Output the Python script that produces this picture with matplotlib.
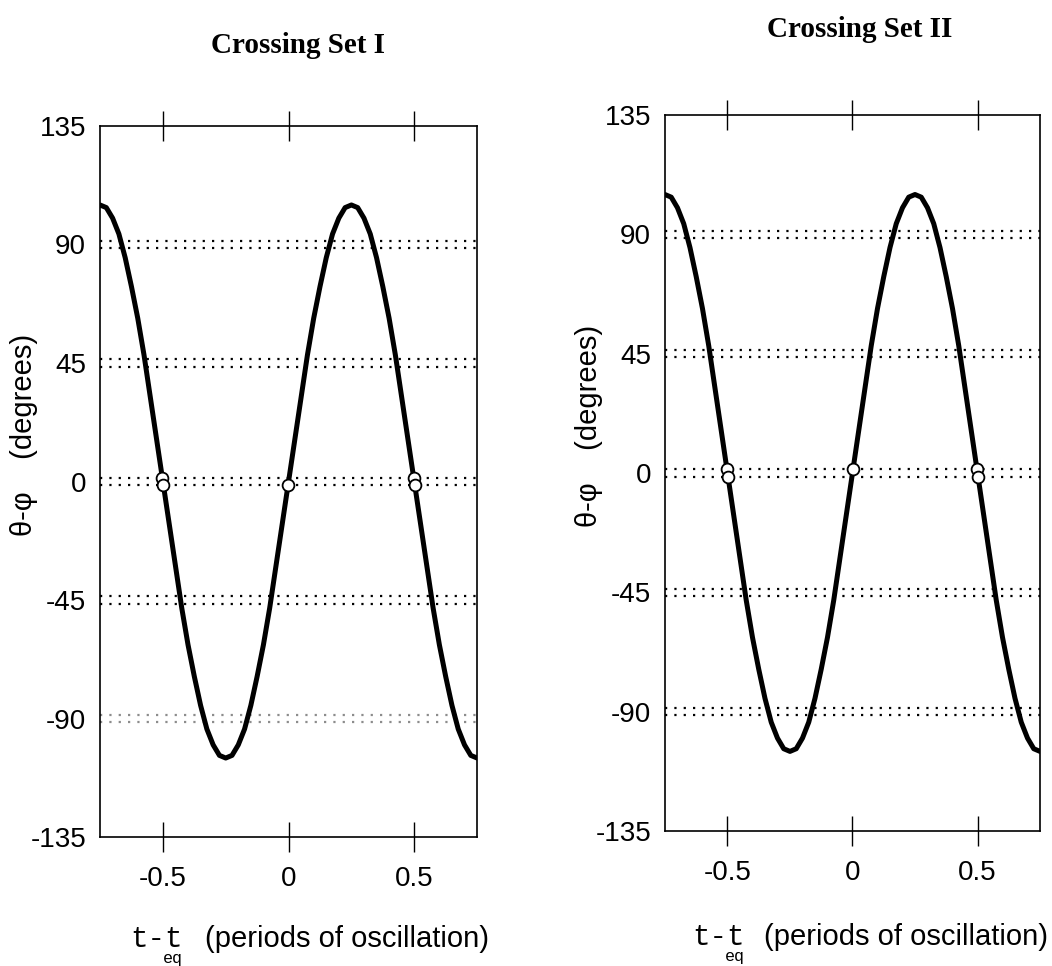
import matplotlib
matplotlib.use("Agg")
import matplotlib.pyplot as plt
import numpy as np

plt.rcParams['axes.unicode_minus'] = False
plt.rcParams['font.family'] = ['Liberation Sans', 'DejaVu Sans']

# time axis (periods of oscillation) and theta-phi (degrees)
t_vals = np.linspace(-0.75, 0.75, 61)
theta_phi = [105, 104, 100, 94, 85, 74, 62, 48, 32, 16, 0,
             -16, -32, -48, -62, -74, -85, -94, -100, -104, -105,
             -104, -100, -94, -85, -74, -62, -48, -32, -16, 0,
             16, 32, 48, 62, 74, 85, 94, 100, 104, 105,
             104, 100, 94, 85, 74, 62, 48, 32, 16, 0,
             -16, -32, -48, -62, -74, -85, -94, -100, -104, -105]

# dotted reference pairs
levels = [90, 45, 0, -45, -90]
pair_split = [1.4, -1.4]

# crossing markers
set1_t = [-0.502, -0.498, -0.002, 0.498, 0.502]
set1_y = [1.4, -1.4, -1.4, 1.4, -1.4]
set2_t = [-0.502, -0.498, 0.002, 0.498, 0.502]
set2_y = [1.4, -1.4, 1.4, 1.4, -1.4]

yticks = [135, 90, 45, 0, -45, -90, -135]
xticks = [-0.5, 0, 0.5]
xtick_labels = ['-0.5', '0', '0.5']

fig = plt.figure(figsize=(10.52, 9.66), dpi=100)
ax1 = fig.add_axes([0.0951, 0.1335, 0.3584, 0.7361])
ax2 = fig.add_axes([0.6321, 0.1398, 0.3565, 0.7412])


def draw_panel(ax, mt, my, faint_low=False):
    for lv in levels:
        for s in pair_split:
            col = '0.55' if (faint_low and lv == -90) else 'black'
            ax.axhline(lv + s, color=col, lw=1.6, ls=(0, (1, 3.2)), zorder=1)
    ax.plot(t_vals, theta_phi, color='black', lw=3.6, zorder=3,
            solid_capstyle='round', solid_joinstyle='round')
    ax.plot(mt, my, 'o', ms=8.5, mfc='white', mec='black', mew=1.3, zorder=5)
    ax.set_xlim(-0.75, 0.75)
    ax.set_ylim(-135, 135)
    ax.set_yticks(yticks)
    ax.set_yticklabels([str(v) for v in yticks], fontsize=20)
    ax.set_xticks(xticks)
    ax.set_xticklabels(xtick_labels, fontsize=20)
    ax.tick_params(axis='y', length=0, pad=10)
    ax.tick_params(axis='x', top=True, bottom=True, direction='inout',
                   length=22, width=1.0, pad=10)
    for sp in ax.spines.values():
        sp.set_linewidth(1.2)
    ax.set_ylabel('θ-φ    (degrees)', fontsize=21)
    ax.yaxis.set_label_coords(-0.164, 0.565)


draw_panel(ax1, set1_t, set1_y, faint_low=True)
draw_panel(ax2, set2_t, set2_y)

# titles
fig.text(0.2833, 0.945, 'Crossing Set I', ha='center', va='baseline',
         fontsize=21, fontweight='bold', family='Liberation Serif')
fig.text(0.8175, 0.9617, 'Crossing Set II', ha='center', va='baseline',
         fontsize=21, fontweight='bold', family='Liberation Serif')

# x labels
for x0, yb, gap in [(130, 947, 75), (692, 945, 72)]:
    fig.text(x0 / 1052, 1 - yb / 966, 't-t', fontsize=21, family='Liberation Mono',
             va='baseline')
    fig.text((x0 + 33) / 1052, 1 - (yb + 16) / 966, 'eq', fontsize=12,
             family='Liberation Mono', va='baseline')
    fig.text((x0 + gap) / 1052, 1 - yb / 966, '(periods of oscillation)',
             fontsize=21, va='baseline')

fig.savefig('out.png', dpi=100)
